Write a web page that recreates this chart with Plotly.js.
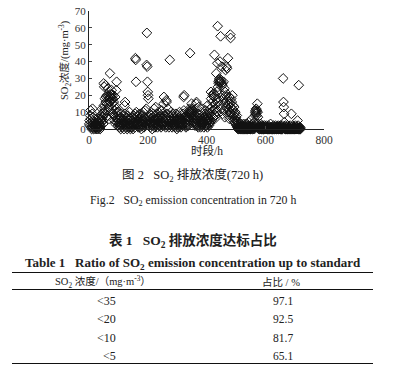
<!DOCTYPE html>
<html>
<head>
<meta charset="utf-8">
<script src="https://cdn.plot.ly/plotly-3.0.1.min.js"></script>
<style>
html,body{margin:0;padding:0;background:#fff;}
#chart{width:395px;height:369px;}
</style>
</head>
<body>
<div id="chart"></div>
<script>
// SO2 emission concentration per hour (mg/m3), hours 1..720 (24 per row)
const so2Values = [
3,5,2,8,11,6,4,1,0,2,9,12,7,3,1,0,2,4,6,3,1,0,1,2,
1,2,0,3,5,2,1,0,4,6,3,2,1,0,2,5,8,6,4,12,9,7,5,3,
10,27,14,25,12,18,9,26,16,19,7,11,20,15,8,24,17,19,13,6,20,18,33,16,
19,21,17,20,23,18,15,12,18,9,20,16,8,11,5,14,19,3,7,12,23,28,10,6,
4,8,2,5,10,3,6,1,4,2,7,0,3,9,5,2,1,4,6,3,8,2,0,5,
14,9,16,3,5,2,7,1,4,0,3,8,2,6,1,5,3,10,2,4,0,1,6,3,
2,5,1,7,3,0,4,8,2,6,3,1,9,42,41,28,10,5,3,7,2,8,4,1,
6,3,2,5,9,1,4,7,2,0,5,3,8,6,2,4,10,3,1,5,7,2,11,4,
6,3,12,38,57,37,28,22,20,18,5,3,7,2,9,4,1,6,3,8,2,5,0,4,
7,3,9,5,2,12,6,1,8,4,13,3,6,2,9,5,1,7,3,10,4,2,6,3,
5,2,8,4,1,7,3,11,6,2,9,4,3,15,19,8,5,2,6,4,1,7,17,16,
3,9,5,2,12,6,4,1,8,3,41,7,2,5,10,4,6,3,1,8,2,5,9,3,
4,7,2,6,3,1,5,9,2,4,0,6,3,8,1,5,2,7,4,10,3,6,2,5,
1,4,8,3,6,2,5,9,3,19,11,20,4,7,2,6,3,1,5,8,2,4,6,3,
7,2,5,9,10,12,11,45,10,9,8,11,15,12,10,9,7,11,8,6,4,9,5,3,
2,6,4,8,15,16,3,7,2,5,9,1,4,13,6,3,8,2,5,1,7,4,10,3,
6,2,12,5,3,8,1,4,7,2,9,5,3,11,6,2,8,4,1,14,3,7,5,2,
6,3,9,4,12,8,22,18,5,10,13,16,20,7,21,11,19,9,44,6,15,20,8,12,
33,18,22,10,39,61,25,16,28,27,29,30,28,40,14,55,29,28,12,37,27,26,9,20,
18,28,11,15,24,7,22,16,35,20,13,37,19,36,10,17,42,14,8,12,19,6,15,10,
56,54,13,18,9,16,12,20,7,14,11,5,8,13,4,9,6,10,3,7,5,2,8,4,
1,3,0,2,1,0,4,1,2,0,1,3,0,1,2,0,1,0,2,1,0,3,1,0,
2,0,1,0,3,1,0,2,1,0,0,1,2,0,1,4,0,1,0,2,1,0,0,1,
2,6,1,0,3,1,0,2,1,4,0,1,8,10,11,9,12,10,8,11,15,10,7,3,
1,0,2,1,0,1,0,3,1,0,2,0,1,0,1,2,0,1,0,0,1,2,0,1,
0,1,0,2,1,0,0,1,0,1,2,0,0,1,0,1,0,3,0,1,0,0,1,0,
1,0,0,2,0,1,0,0,1,0,2,1,0,0,1,0,0,1,0,2,0,1,0,0,
1,0,2,0,1,0,0,1,0,2,0,1,30,16,13,9,4,1,0,2,0,1,0,0,
1,0,0,2,0,1,0,0,1,0,1,0,2,0,0,1,9,0,1,0,0,2,0,1,
0,1,0,0,1,0,2,0,0,1,0,0,1,5,0,2,0,26,0,1,0,0,1,0
];
const hours = so2Values.map((v, i) => i + 1);

const xTickVals = [0, 200, 400, 600, 800];
const yTickVals = [0, 10, 20, 30, 40, 50, 60, 70];

// Table 1 data
const tableThresholds = ["<35", "<20", "<10", "<5"];
const tableRatios = ["97.1", "92.5", "81.7", "65.1"];

const W = 395, H = 369;
const M = {l: 89, r: 71, t: 11, b: 240};
const PW = W - M.l - M.r, PH = H - M.t - M.b;
const px = x => (x - M.l) / PW;
const py = y => (H - M.b - y) / PH;

const serif = "'Liberation Serif', 'Times New Roman', 'Noto Sans CJK SC', serif";
const mixed = "'Liberation Serif', 'Noto Sans CJK SC', serif";
const txt = '#222';

const annotations = [];
function ann(text, x, y, size, opts) {
  annotations.push(Object.assign({
    text: text, xref: 'paper', yref: 'paper', x: px(x), y: py(y),
    xanchor: 'center', yanchor: 'middle', showarrow: false,
    font: {family: mixed, size: size, color: txt}
  }, opts || {}));
}
// axis titles
ann('时段/h', 207, 150.5, 11.5);
ann('SO<sub>2</sub>浓度/(mg·m<sup>-3</sup>)', 65, 60, 10.5, {textangle: -90});
// figure captions
ann('图 2   SO<sub>2</sub> 排放浓度(720 h)', 192, 175, 12.5);
ann('Fig.2   SO<sub>2</sub> emission concentration in 720 h', 193, 200, 11.8);
// table titles
ann('<b>表 1   SO<sub>2</sub> 排放浓度达标占比</b>', 193, 241, 13.5);
ann('<b>Table 1   Ratio of SO<sub>2</sub> emission concentration up to standard</b>', 193, 263, 13);
// header
ann('SO<sub>2</sub> 浓度/（mg·m<sup>-3</sup>）', 103, 281.5, 10.5);
ann('占比 / %', 281, 281.5, 10.5);
const rowY = [300.5, 319, 337.5, 355.5];
tableThresholds.forEach((t, i) => {
  ann(t.replace('<', '&lt;'), i === 3 ? 109 : 106, rowY[i], 12);
  ann(tableRatios[i], 283, rowY[i], 11.5);
});

const shapes = [272.5, 289.5, 363.5].map(y => ({
  type: 'line', xref: 'paper', yref: 'paper',
  x0: px(12), x1: px(373), y0: py(y), y1: py(y),
  line: {color: '#111', width: 1}
}));

const trace = {
  x: hours, y: so2Values, type: 'scatter', mode: 'markers',
  cliponaxis: false,
  marker: {symbol: 'diamond-open', size: 7.5, color: '#111', line: {width: 1, color: '#111'}},
  hoverinfo: 'skip'
};

const layout = {
  width: W, height: H,
  margin: M,
  paper_bgcolor: '#fff', plot_bgcolor: '#fff',
  showlegend: false,
  font: {family: serif, size: 11, color: txt},
  xaxis: {
    range: [0, 800], tickvals: xTickVals, ticks: 'inside', ticklen: 3,
    showline: true, linecolor: '#222', linewidth: 1, showgrid: false, zeroline: false,
    tickfont: {family: serif, size: 11.5, color: '#333'}, fixedrange: true
  },
  yaxis: {
    range: [0, 70], tickvals: yTickVals, ticks: 'inside', ticklen: 3,
    showline: true, linecolor: '#222', linewidth: 1, showgrid: false, zeroline: false,
    tickfont: {family: serif, size: 11, color: '#333'}, fixedrange: true
  },
  annotations: annotations,
  shapes: shapes
};

Plotly.newPlot('chart', [trace], layout, {staticPlot: true, displayModeBar: false});
</script>
</body>
</html>
